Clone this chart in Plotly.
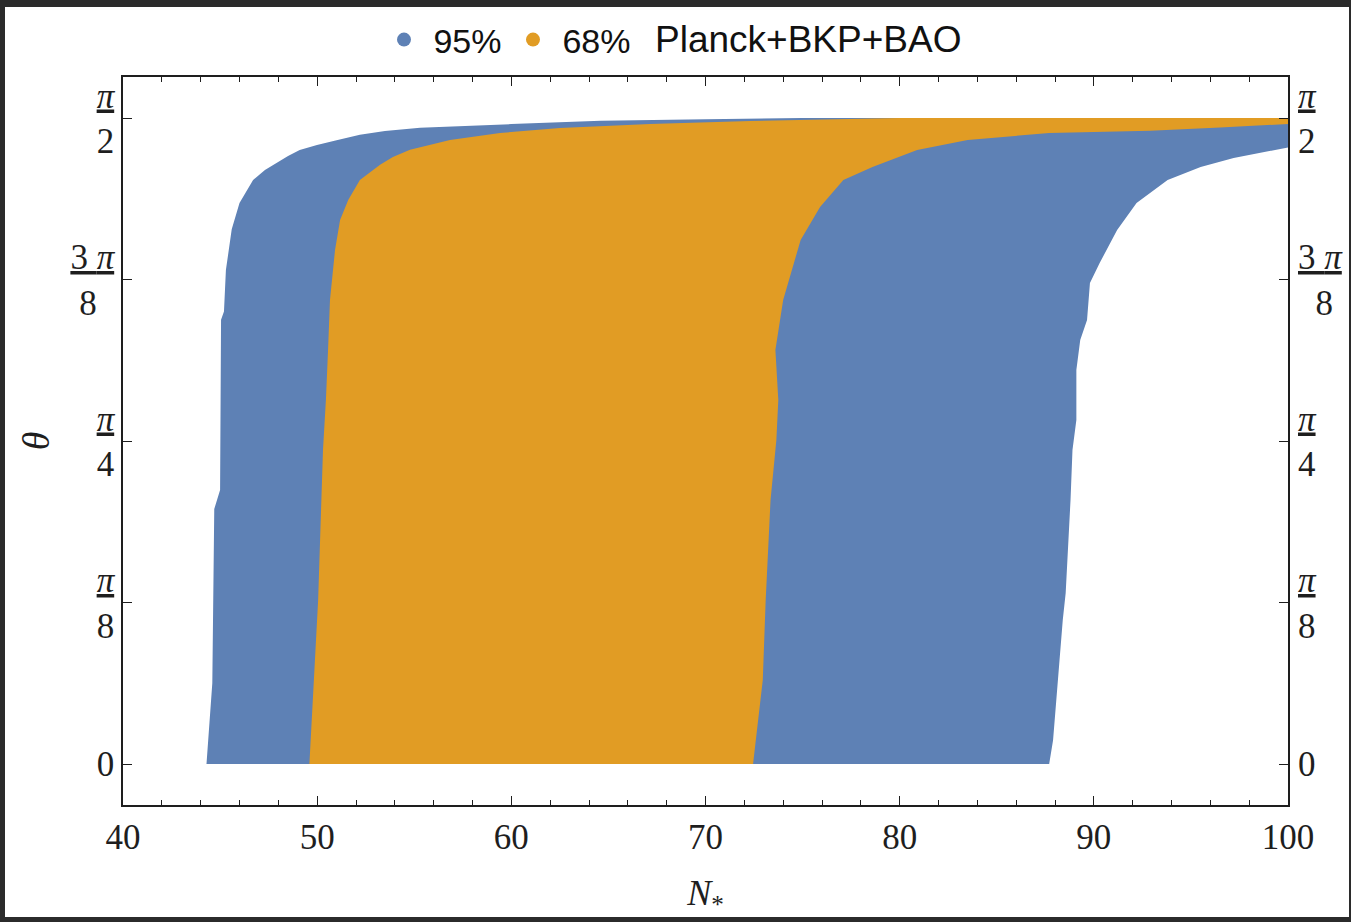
import math
import plotly.graph_objects as go

# ---------------- data ----------------
# 95% region: left boundary (bottom -> top), theta in rad, N_* values
blue_left_theta = [0.0, 0.197, 0.62, 0.666, 1.08, 1.10, 1.201, 1.30, 1.364, 1.3957, 1.42, 1.4444,
                   1.461, 1.4784, 1.493, 1.5052, 1.517, 1.530, 1.5392, 1.547, 1.556, 1.564, 1.568,
                   1.5708, 1.5708]
blue_left_N = [44.3, 44.6, 44.7, 45.0, 45.05, 45.2, 45.3, 45.6, 46.0, 46.39, 46.7, 47.31,
               47.9, 48.5, 49.1, 49.99, 51.0, 52.2, 53.49, 55.3, 60.0, 64.6, 70.0,
               75.0, 100.0]
# 95% region: right boundary (top -> bottom)
blue_right_theta = [1.499, 1.4735, 1.4517, 1.4201, 1.3641, 1.2985, 1.2182, 1.1696, 1.0796,
                    1.031, 0.958, 0.8365, 0.7635, 0.642, 0.496, 0.4158, 0.350, 0.1726,
                    0.155, 0.058, 0.0]
blue_right_N = [100.0, 97.2, 95.5, 93.8, 92.2, 91.2, 90.3, 89.8, 89.65,
                89.3, 89.1, 89.1, 88.9, 88.8, 88.65, 88.55, 88.4, 88.1,
                88.05, 87.9, 87.7]

# 68% region: left boundary (bottom -> top)
orange_left_theta = [0.0, 0.399, 0.7635, 0.885, 1.0067, 1.128, 1.2498, 1.3228, 1.3714, 1.42,
                     1.4569, 1.476, 1.4937, 1.505, 1.5173, 1.5344, 1.5466, 1.5562, 1.5635,
                     1.5684, 1.5708, 1.5708]
orange_left_N = [49.6, 50.05, 50.3, 50.45, 50.56, 50.66, 50.92, 51.18, 51.6, 52.2,
                 53.24, 53.9, 54.78, 55.7, 56.84, 59.42, 62.5, 67.14, 72.3,
                 77.4, 80.0, 100.0]
# 68% region: right boundary (top -> bottom)
orange_right_theta = [1.556, 1.548, 1.540, 1.5345, 1.5173, 1.4930, 1.4517, 1.4201, 1.3544, 1.2742,
                      1.1283, 1.0067, 0.885, 0.7878, 0.642, 0.3988, 0.2043, 0.0]
orange_right_N = [100.0, 96.5, 92.9, 87.7, 83.5, 80.9, 78.6, 77.1, 75.9, 74.9,
                  74.0, 73.6, 73.75, 73.65, 73.35, 73.1, 72.95, 72.45]

x_range = [40, 100]
y_range = [-0.0997, 1.6705]
y_tickvals = [0, math.pi / 8, math.pi / 4, 3 * math.pi / 8, math.pi / 2]
NB = "\u00a0"
y_ticktext_left = ["0", "<u><i>π</i></u><br>8", "<u><i>π</i></u><br>4",
                   "<u>3 <i>π</i></u><br>8" + NB * 2, "<u><i>π</i></u><br>2"]
y_ticktext_right = ["0", "<u><i>π</i></u><br>8", "<u><i>π</i></u><br>4",
                    "<u>3 <i>π</i></u><br>" + NB * 2 + "8", "<u><i>π</i></u><br>2"]
x_tickvals = [40, 50, 60, 70, 80, 90, 100]

legend_names = [" 95%", " 68%"]
legend_note = "Planck+BKP+BAO"

BLUE = "#5E81B5"
ORANGE = "#E19C24"
AXIS = "#1e1e1e"

# ---------------- figure ----------------
W, H = 1351, 922
ML, MR, MT, MB = 123, 63, 77, 117
PW, PH = W - ML - MR, H - MT - MB

fig = go.Figure()

fig.add_trace(go.Scatter(
    x=blue_left_N + blue_right_N, y=blue_left_theta + blue_right_theta,
    fill="toself", fillcolor=BLUE, mode="lines", line=dict(width=0, color=BLUE),
    showlegend=False, hoverinfo="skip"))
fig.add_trace(go.Scatter(
    x=orange_left_N + orange_right_N, y=orange_left_theta + orange_right_theta,
    fill="toself", fillcolor=ORANGE, mode="lines", line=dict(width=0, color=ORANGE),
    showlegend=False, hoverinfo="skip"))

for name, col in zip(legend_names, [BLUE, ORANGE]):
    fig.add_trace(go.Scatter(x=[None], y=[None], mode="markers", name=name,
                             marker=dict(color=col, size=14)))

# invisible trace to carry the right-hand axis
fig.add_trace(go.Scatter(x=[None], y=[None], yaxis="y2", showlegend=False,
                         mode="markers", hoverinfo="skip"))

tick_font = dict(family="Liberation Serif", size=35, color=AXIS)

def px2paper_x(px):
    return (px - ML) / PW

def px2paper_y(py):
    return (H - MB - py) / PH

fig.update_layout(
    width=W, height=H,
    margin=dict(l=ML, r=MR, t=MT, b=MB, autoexpand=False),
    paper_bgcolor="#2b2b2b",
    plot_bgcolor="white",
    showlegend=True,
    legend=dict(orientation="h", x=px2paper_x(384), xanchor="left",
                y=px2paper_y(40), yanchor="middle", entrywidth=84,
                font=dict(family="Liberation Sans", size=34, color="#111"),
                bgcolor="rgba(0,0,0,0)", itemsizing="trace", traceorder="normal"),
    xaxis=dict(range=x_range, tickvals=x_tickvals, ticks="inside", ticklen=9,
               tickwidth=1.3, tickcolor=AXIS, showline=True, linecolor=AXIS,
               linewidth=1.6, mirror="ticks", showgrid=False, zeroline=False,
               tickfont=tick_font, automargin=False,
               minor=dict(dtick=2, ticks="inside", ticklen=5, tickwidth=1.1,
                          tickcolor=AXIS, showgrid=False),
               title=dict(text="<i>N</i><sub>*</sub>",
                          font=dict(family="Liberation Serif", size=36, color=AXIS),
                          standoff=24)),
    yaxis=dict(range=y_range, tickvals=y_tickvals, ticktext=y_ticktext_left,
               ticks="inside", ticklen=9, tickwidth=1.3, tickcolor=AXIS,
               showline=True, linecolor=AXIS, linewidth=1.6, mirror="ticks",
               showgrid=False, zeroline=False, tickfont=tick_font, automargin=False,
               title=dict(text="<i>θ</i>",
                          font=dict(family="Liberation Serif", size=38, color=AXIS),
                          standoff=9)),
    yaxis2=dict(range=y_range, overlaying="y", side="right", matches="y",
                tickvals=y_tickvals, ticktext=y_ticktext_right, ticks="",
                ticklabelstandoff=9, automargin=False,
                showline=False, showgrid=False, zeroline=False, tickfont=tick_font),
    shapes=[dict(type="rect", xref="paper", yref="paper", layer="below",
                 x0=px2paper_x(5), x1=px2paper_x(1349),
                 y0=px2paper_y(917), y1=px2paper_y(7),
                 fillcolor="white", line=dict(width=0))],
    annotations=[dict(text=legend_note, xref="paper", yref="paper",
                      x=px2paper_x(653), y=px2paper_y(40), xanchor="left",
                      yanchor="middle", showarrow=False,
                      font=dict(family="Liberation Sans", size=37, color="#111"))],
)

fig.write_html("out.html")
